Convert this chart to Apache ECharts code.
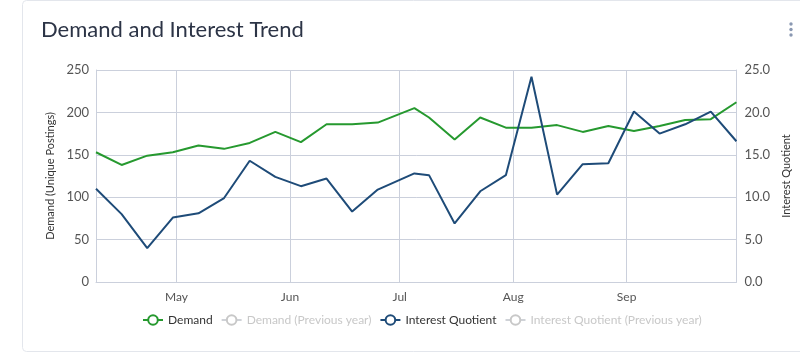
<!DOCTYPE html>
<html>
<head>
<meta charset="utf-8">
<script src="https://cdn.jsdelivr.net/npm/echarts@6/dist/echarts.min.js"></script>
<style>
html,body{margin:0;padding:0;background:#fff;}
#c{width:800px;height:355px;}
</style>
</head>
<body>
<div id="c"></div>
<script>
const dates = ['2023-04-09','2023-04-16','2023-04-23','2023-04-30','2023-05-07','2023-05-14','2023-05-21','2023-05-28','2023-06-04','2023-06-11','2023-06-18','2023-06-25','2023-07-05','2023-07-09','2023-07-16','2023-07-23','2023-07-30','2023-08-06','2023-08-13','2023-08-20','2023-08-27','2023-09-03','2023-09-10','2023-09-17','2023-09-24','2023-10-01'];
const demand = [153,138,149,153,161,157,164,177,165,186,186,188,205,194,168,194,182,182,185,177,184,178,184,191,192,212];
const interest = [11.0,8.0,4.0,7.6,8.1,9.9,14.3,12.4,11.3,12.2,8.3,10.9,12.8,12.6,6.9,10.7,12.6,24.2,10.3,13.9,14.0,20.1,17.5,18.6,20.1,16.6];
const demandPrev = [];
const interestPrev = [];
const leftTicks = {min:0, max:250, interval:50};
const rightTicks = {min:0, max:25, interval:5};
const monthNames = ['Jan','Feb','Mar','Apr','May','Jun','Jul','Aug','Sep','Oct','Nov','Dec'];

const chart = echarts.init(document.getElementById('c'));
const gridColor = '#cbd0dc';
const font = 'Lato';
const pair = (arr) => arr.map((v,i)=>[dates[i], v]);

chart.setOption({
  animation:false,
  textStyle:{fontFamily:font},
  title:{text:'Demand and Interest Trend', left:36, top:14,
    textStyle:{fontFamily:font, fontSize:22, fontWeight:'normal', color:'#2c3446'}},
  graphic:[
    {type:'rect', shape:{x:22.5, y:0.5, width:800, height:351, r:4}, style:{fill:'none', stroke:'#e3e6ec', lineWidth:1}, silent:true},
    {type:'circle', shape:{cx:791, cy:24, r:1.7}, style:{fill:'#8a98b2'}},
    {type:'circle', shape:{cx:791, cy:29.5, r:1.7}, style:{fill:'#8a98b2'}},
    {type:'circle', shape:{cx:791, cy:35, r:1.7}, style:{fill:'#8a98b2'}}
  ],
  legend:{
    left:137, top:309, itemWidth:20, itemHeight:12, itemGap:8,
    inactiveColor:'#c8c8c8',
    textStyle:{fontFamily:font, fontSize:12, color:'#333'},
    data:['Demand','Demand (Previous year)','Interest Quotient','Interest Quotient (Previous year)'],
    selected:{'Demand (Previous year)':false,'Interest Quotient (Previous year)':false}
  },
  grid:{left:96, right:63, top:70, bottom:73},
  xAxis:{
    type:'time', min:dates[0], max:dates[dates.length-1],
    minInterval:28*86400000, maxInterval:31*86400000,
    axisLine:{show:true, lineStyle:{color:gridColor}},
    axisTick:{show:false},
    splitLine:{show:true, lineStyle:{color:gridColor, width:1}},
    axisLabel:{fontFamily:font, fontSize:12, color:'#555', margin:9,
      formatter:function(v){const d=new Date(v); if(d.getMonth()===9) return ''; return monthNames[d.getMonth()];}}
  },
  yAxis:[
    {type:'value', min:leftTicks.min, max:leftTicks.max, interval:leftTicks.interval,
     name:'Demand (Unique Postings)', nameLocation:'middle', nameGap:36, nameRotate:90,
     nameTextStyle:{fontFamily:font, fontSize:11, color:'#333'},
     axisLine:{show:true, lineStyle:{color:gridColor}}, axisTick:{show:false},
     splitLine:{show:true, lineStyle:{color:gridColor}},
     axisLabel:{fontFamily:font, fontSize:13, color:'#555', margin:7}},
    {type:'value', min:rightTicks.min, max:rightTicks.max, interval:rightTicks.interval,
     name:'Interest Quotient', nameLocation:'middle', nameGap:34, nameRotate:90,
     nameTextStyle:{fontFamily:font, fontSize:11, color:'#333'},
     axisLine:{show:true, lineStyle:{color:gridColor}}, axisTick:{show:false},
     splitLine:{show:false},
     axisLabel:{fontFamily:font, fontSize:13, color:'#555', margin:8, formatter:(v)=>v.toFixed(1)}}
  ],
  series:[
    {name:'Demand', type:'line', yAxisIndex:0, data:pair(demand), showSymbol:false, symbol:'emptyCircle', symbolSize:9,
     lineStyle:{width:2, color:'#26992f'}, itemStyle:{color:'#26992f'}},
    {name:'Demand (Previous year)', type:'line', yAxisIndex:0, data:pair(demandPrev), showSymbol:false, symbol:'emptyCircle', symbolSize:9,
     lineStyle:{width:2, color:'#9ccf9f'}, itemStyle:{color:'#9ccf9f'}},
    {name:'Interest Quotient', type:'line', yAxisIndex:1, data:pair(interest), showSymbol:false, symbol:'emptyCircle', symbolSize:9,
     lineStyle:{width:2, color:'#1e4b78'}, itemStyle:{color:'#1e4b78'}},
    {name:'Interest Quotient (Previous year)', type:'line', yAxisIndex:1, data:pair(interestPrev), showSymbol:false, symbol:'emptyCircle', symbolSize:9,
     lineStyle:{width:2, color:'#8fa9c4'}, itemStyle:{color:'#8fa9c4'}}
  ]
});
</script>
</body>
</html>
